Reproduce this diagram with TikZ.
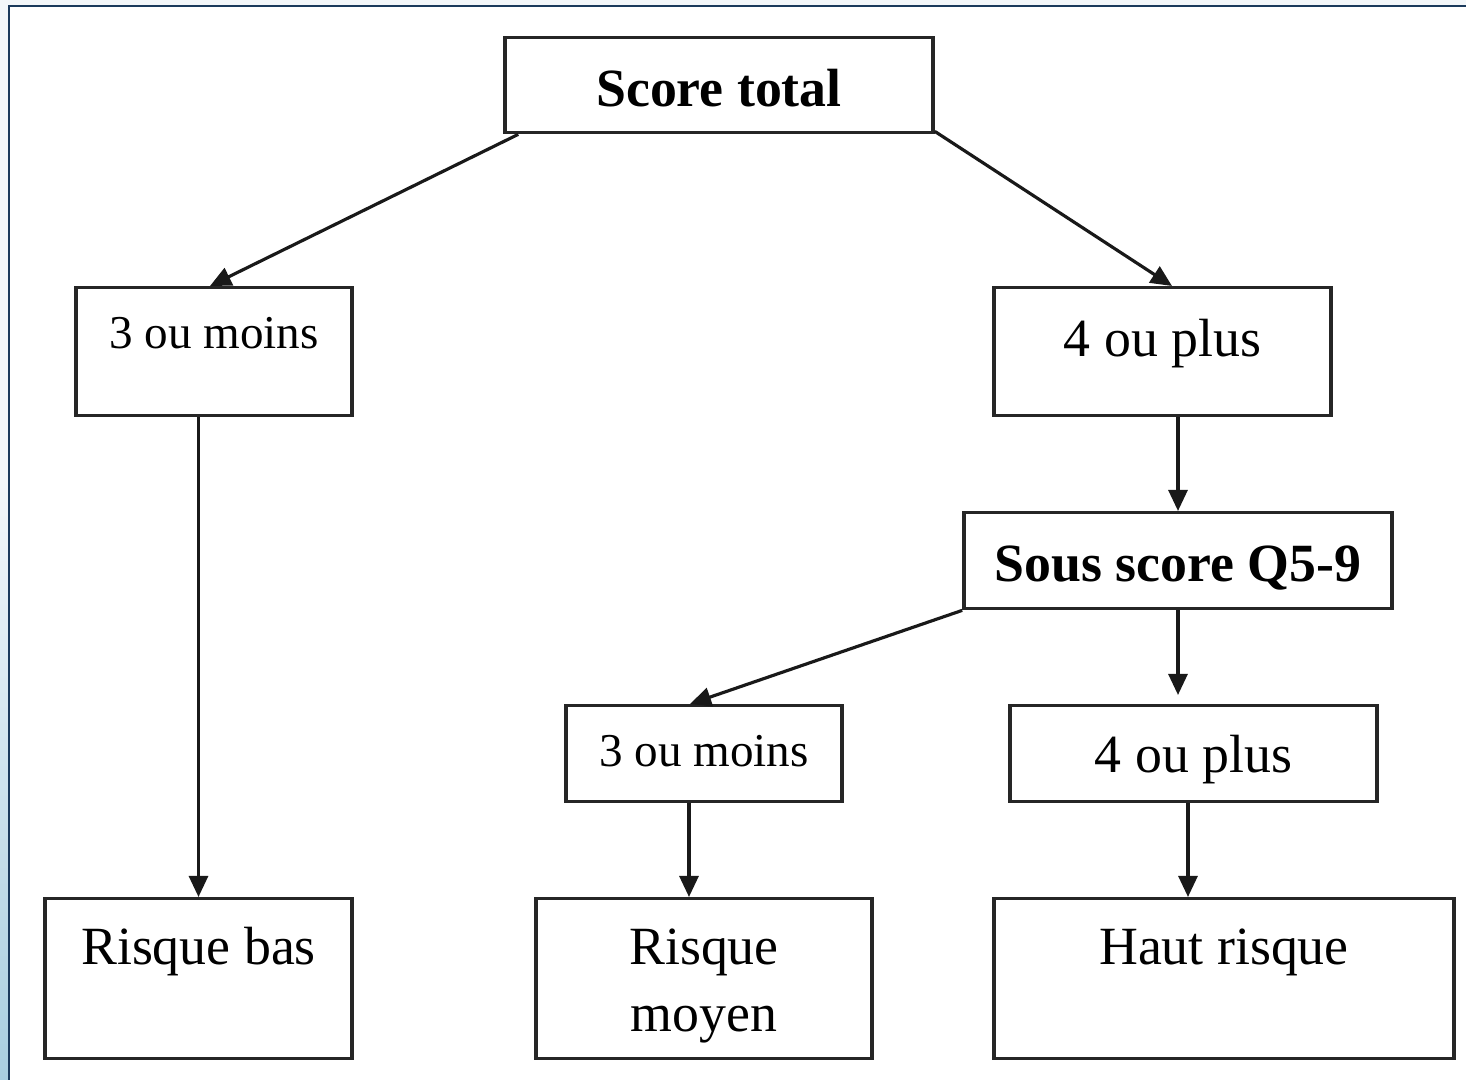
\documentclass[tikz,border=0pt]{standalone}
\usepackage{fontspec}
\setmainfont{Liberation Serif}
\usetikzlibrary{arrows.meta,positioning,calc}
\definecolor{bgpale}{HTML}{F3F7FA}
\definecolor{edgeblue}{HTML}{A8CEE0}
\definecolor{framenavy}{HTML}{1B3A5C}
\newcommand\bigtxt{\fontsize{15.3}{19}\selectfont}
\newcommand\smalltxt{\fontsize{13.4}{16}\selectfont}

\begin{document}
\begin{tikzpicture}[x=0.01cm,y=-0.01cm,
 box/.style={draw=black!85,line width=.95pt,inner sep=0pt,align=center,anchor=north,font=\bigtxt},
 head/.style={box,font=\bigtxt\bfseries},
 arr/.style={-{Triangle[length=6pt,width=5.4pt]},line width=.9pt,draw=black!90}]
% frame
\useasboundingbox (0,0) rectangle (1466,1080);
\fill[bgpale] (0,0) rectangle (1466,1080);
\shade[top color=bgpale,bottom color=edgeblue] (0,480) rectangle (9,1080);
\fill[white] (9,6) rectangle (1466,1080);
\draw[framenavy,line width=.8pt] (1466,6) -- (9,6) -- (9,1080);
% boxes
\node[head,minimum width=4.28cm,text height=.69cm,text depth=.26cm] (tot) at (719,36) {Score total};
\node[box,font=\smalltxt,minimum width=2.76cm,text height=.61cm,text depth=.67cm] (moins1) at (214,286) {3 ou moins};
\node[box,minimum width=3.37cm,text height=.69cm,text depth=.59cm] (plus1) at (1162.5,286) {4 ou plus};
\node[head,minimum width=4.28cm,text height=.69cm,text depth=.27cm] (sous) at (1178,511) {Sous score Q5-9};
\node[box,font=\smalltxt,minimum width=2.76cm,text height=.61cm,text depth=.35cm] (moins2) at (704,704) {3 ou moins};
\node[box,minimum width=3.67cm,text height=.67cm,text depth=.29cm] (plus2) at (1193.5,704) {4 ou plus};
\node[box,minimum width=3.07cm,text height=.66cm,text depth=.94cm] (bas) at (198.5,897) {Risque bas};
\node[box,minimum width=3.36cm,text height=1.33cm,text depth=.27cm] (moyen) at (704,897) {Risque\\moyen};
\node[box,minimum width=4.60cm,text height=.66cm,text depth=.94cm] (haut) at (1224,897) {Haut risque};
% arrows
\draw[arr] ([xshift=.15cm]tot.south west) -- ([xshift=-.04cm]moins1.north);
\draw[arr] ([yshift=.03cm]tot.south east) -- ([xshift=.095cm]plus1.north);
\draw[arr] (moins1.south -| bas.north) -- (bas.north);
\draw[arr] (plus1.south -| sous.north) -- (sous.north);
\draw[arr] (sous.south west) -- ([xshift=-.14cm]moins2.north);
\draw[arr,shorten >=.09cm] (sous.south) -- (sous.south |- plus2.north);
\draw[arr] ([xshift=-.15cm]moins2.south) -- ([xshift=-.15cm]moins2.south |- moyen.north);
\draw[arr] ([xshift=-.055cm]plus2.south) -- ([xshift=-.055cm]plus2.south |- haut.north);
\end{tikzpicture}
\end{document}
